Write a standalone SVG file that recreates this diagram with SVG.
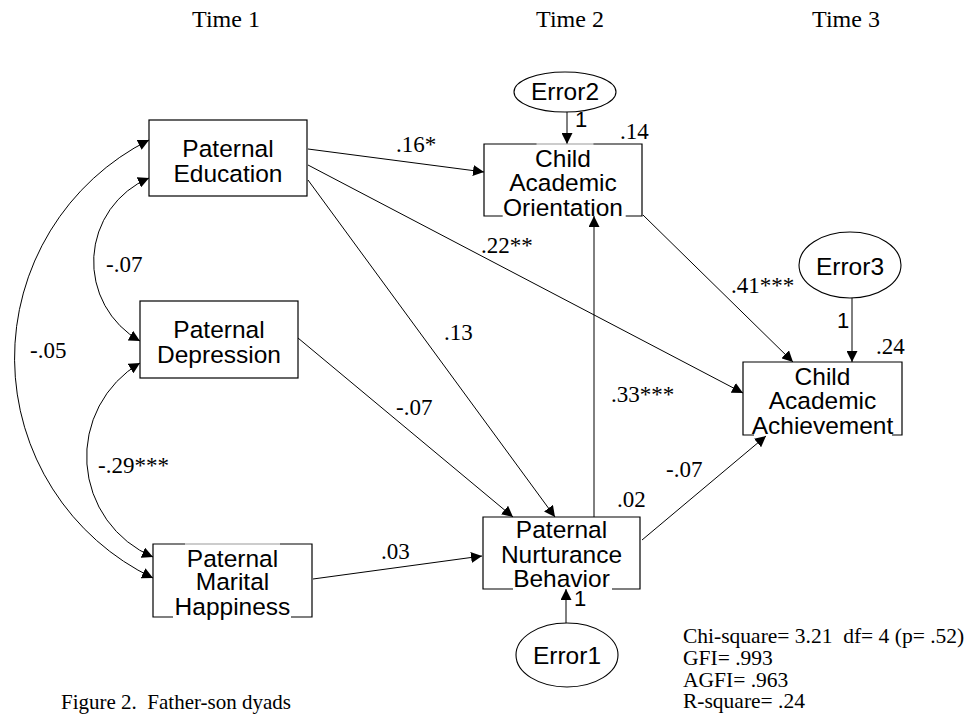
<svg xmlns="http://www.w3.org/2000/svg" width="968" height="716" viewBox="0 0 968 716">
<style>
.bg{fill:#fff}
.box{fill:none;stroke:#000;stroke-width:1.2}
.dim{fill:none;stroke:#999;stroke-width:1.2}
.ell{fill:#fff;stroke:#000;stroke-width:1.1}
.con{fill:none;stroke:#000;stroke-width:1}
.nt{font-family:"Liberation Sans",Arial,sans-serif;font-size:24.5px;fill:#000;text-anchor:middle}
.one{font-family:"Liberation Sans",Arial,sans-serif;font-size:22px;fill:#000}
.lab{font-family:"Liberation Serif","Times New Roman",serif;font-size:23px;fill:#000}
.ttl{font-family:"Liberation Serif","Times New Roman",serif;font-size:24px;fill:#000;text-anchor:middle}
.st{font-family:"Liberation Serif","Times New Roman",serif;font-size:21.5px;fill:#000;white-space:pre}
</style>
<defs>
<marker id="ah" viewBox="0 0 11 11" refX="11" refY="5.5" markerWidth="11" markerHeight="11" markerUnits="userSpaceOnUse" orient="auto-start-reverse">
<path d="M0,0 L11,5.5 L0,11 z" fill="#000"/>
</marker>
</defs>
<rect class="bg" x="0" y="0" width="968" height="716"/>

<g id="titles">
<text class="ttl" x="226" y="27">Time 1</text>
<text class="ttl" x="570" y="27">Time 2</text>
<text class="ttl" x="846" y="27">Time 3</text>
</g>

<g id="connectors">
<path class="con" d="M567,112 L567,144" marker-end="url(#ah)"/>
<path class="con" d="M852,298 L852,362" marker-end="url(#ah)"/>
<path class="con" d="M566,623 L566,589" marker-end="url(#ah)"/>
<path class="con" d="M308,149 L484,172" marker-end="url(#ah)"/>
<path class="con" d="M308,165 L743,393" marker-end="url(#ah)"/>
<path class="con" d="M308,180 L555,517" marker-end="url(#ah)"/>
<path class="con" d="M298,338 L513,517" marker-end="url(#ah)"/>
<path class="con" d="M313,579 L482,556" marker-end="url(#ah)"/>
<path class="con" d="M594,517 L594,216" marker-end="url(#ah)"/>
<path class="con" d="M643,215 L793,362" marker-end="url(#ah)"/>
<path class="con" d="M642,540 L766,436" marker-end="url(#ah)"/>
<path class="con" d="M149,178 A91,91 0 0,0 140,341" marker-start="url(#ah)" marker-end="url(#ah)"/>
<path class="con" d="M140,363 A109,109 0 0,0 153,557" marker-start="url(#ah)" marker-end="url(#ah)"/>
<path class="con" d="M149,140 A244,244 0 0,0 153,578" marker-start="url(#ah)" marker-end="url(#ah)"/>
<text class="one" x="575" y="127">1</text>
<text class="one" x="837" y="328">1</text>
<text class="one" x="574" y="606">1</text>
<text class="lab" x="396" y="152">.16*</text>
<text class="lab" x="481" y="253">.22**</text>
<text class="lab" x="444" y="340">.13</text>
<text class="lab" x="396" y="415">-.07</text>
<text class="lab" x="381" y="559">.03</text>
<text class="lab" x="611" y="402">.33***</text>
<text class="lab" x="731" y="293">.41***</text>
<text class="lab" x="666" y="477">-.07</text>
<text class="lab" x="106" y="272">-.07</text>
<text class="lab" x="30" y="358">-.05</text>
<text class="lab" x="98" y="473">-.29***</text>
</g>

<g id="education">
<rect class="box" x="149" y="120" width="158" height="76"/>
<text class="nt" x="228" y="157">Paternal</text>
<text class="nt" x="228" y="182">Education</text>
</g>

<g id="depression">
<rect class="box" x="140" y="301" width="158" height="77"/>
<text class="nt" x="219" y="338">Paternal</text>
<text class="nt" x="219" y="363">Depression</text>
</g>

<g id="marital">
<path class="box" d="M173,617 H153 V544 H185 M280,544 H312 V617 H291"/>
<path class="dim" d="M185,544 H280"/>
<text class="nt" x="232.5" y="567">Paternal</text>
<text class="nt" x="232.5" y="590">Marital</text>
<text class="nt" x="232.5" y="615">Happiness</text>
</g>

<g id="orientation">
<path class="box" d="M502.7,216 H484 V144 H536.7 M593.3,144 H642 V216 H625.7"/>
<path class="dim" d="M536.7,144 H593.3"/>
<text class="nt" x="563" y="167">Child</text>
<text class="nt" x="563" y="191">Academic</text>
<text class="nt" x="563" y="216">Orientation</text>
<text class="lab" x="620" y="139">.14</text>
</g>

<g id="achievement">
<path class="box" d="M754,435 H743 V362 H902 V435 H892"/>
<text class="nt" x="822.5" y="385">Child</text>
<text class="nt" x="822.5" y="409">Academic</text>
<text class="nt" x="822.5" y="434">Achievement</text>
<text class="lab" x="876" y="354">.24</text>
</g>

<g id="nurturance">
<path class="box" d="M513,589 H483 V517 H640 V589 H612"/>
<text class="nt" x="561.5" y="538">Paternal</text>
<text class="nt" x="561.5" y="563">Nurturance</text>
<text class="nt" x="561.5" y="587">Behavior</text>
<text class="lab" x="617" y="507">.02</text>
</g>

<g id="error2">
<ellipse class="ell" cx="565" cy="92" rx="51" ry="20"/>
<text class="nt" x="565" y="100">Error2</text>
</g>

<g id="error3">
<ellipse class="ell" cx="850" cy="265" rx="51" ry="33"/>
<text class="nt" x="850" y="275">Error3</text>
</g>

<g id="error1">
<ellipse class="ell" cx="567" cy="655" rx="51" ry="32"/>
<text class="nt" x="567" y="664">Error1</text>
</g>

<g id="stats">
<text class="st" x="683" y="643" xml:space="preserve">Chi-square= 3.21  df= 4 (p= .52)</text>
<text class="st" x="683" y="665">GFI= .993</text>
<text class="st" x="683" y="687">AGFI= .963</text>
<text class="st" x="683" y="708">R-square= .24</text>
</g>

<g id="caption">
<text class="st" x="61" y="709" style="font-size:21px" xml:space="preserve">Figure 2.  Father-son dyads</text>
</g>
</svg>
